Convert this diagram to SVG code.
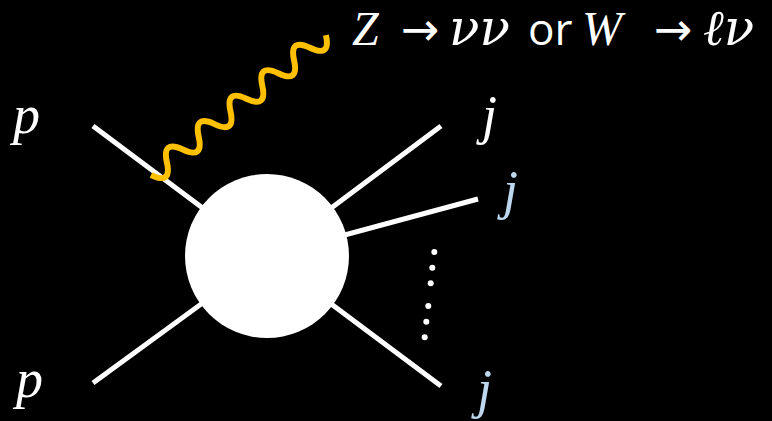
<svg xmlns="http://www.w3.org/2000/svg" width="772" height="421" viewBox="0 0 772 421">
<style>
.leg{stroke:#fff;stroke-width:5;fill:none}
.m{font-family:"Liberation Serif","DejaVu Serif",serif;font-style:italic;fill:#fff}
.g{font-family:"DejaVu Serif",serif;font-style:italic;fill:#fff}
.ar{font-family:"DejaVu Sans",sans-serif;fill:#fff}
.s{font-family:"Open Sans","Liberation Sans",sans-serif;fill:#fff}
.blue{fill:#BDD7EE}
</style>
<rect width="772" height="421" fill="#000"/>
<g id="connectors">
<line class="leg" x1="93" y1="126" x2="267" y2="256"/>
<line class="leg" x1="93" y1="383" x2="267" y2="256"/>
<line class="leg" x1="441" y1="126" x2="267" y2="256"/>
<line class="leg" x1="478" y1="199" x2="267" y2="256"/>
<line class="leg" x1="441" y1="386" x2="267" y2="256"/>
<path id="boson" transform="translate(151,175) rotate(-38.66)" fill="none" stroke="#FFC000" stroke-width="6" d="M0 0 Q10.18 21 20.36 0 T40.73 0 T61.09 0 T81.45 0 T101.82 0 T122.18 0 T142.55 0 T162.91 0 T183.27 0 T203.64 0 T224 0"/>
</g>
<g id="blob"><circle cx="267" cy="256" r="82" fill="#fff"/></g>
<g id="dots" fill="#fff">
<circle cx="434.3" cy="252" r="3"/>
<circle cx="432.3" cy="267.7" r="3"/>
<circle cx="430.7" cy="283.3" r="3"/>
<circle cx="428.3" cy="306" r="3"/>
<circle cx="426.3" cy="321.7" r="3"/>
<circle cx="424.7" cy="337.3" r="3"/>
</g>
<g id="labels">
<text class="m" x="13" y="133" font-size="54">p</text>
<text class="m" x="16" y="397" font-size="54">p</text>
<text class="m" x="482" y="133" font-size="54">j</text>
<text class="m blue" x="503" y="208" font-size="54">j</text>
<text class="m blue" x="477" y="407" font-size="54">j</text>
</g>
<g id="title" font-size="48">
<text class="m" x="352" y="45">Z</text>
<text class="ar" x="401" y="45" font-size="46">→</text>
<text class="g" x="449" y="45" font-size="50">νν</text>
<text class="s" x="528" y="45" font-size="44">or</text>
<text class="m" x="582" y="45">W</text>
<text class="ar" x="654" y="45" font-size="46">→</text>
<text class="g" x="703" y="45" font-size="50">ℓν</text>
</g>
</svg>
